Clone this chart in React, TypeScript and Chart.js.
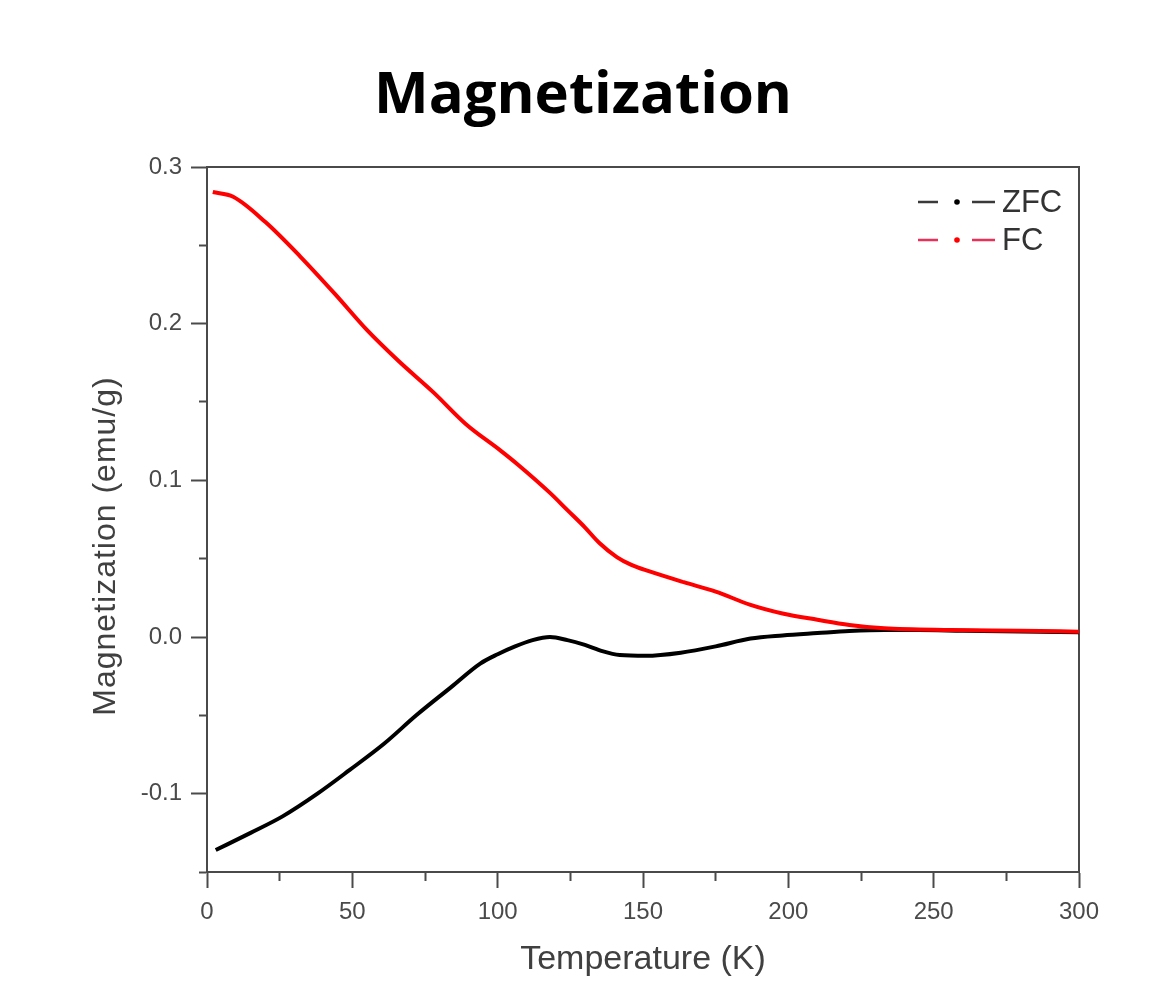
import React, { useEffect, useRef } from "react";
import { Chart, registerables } from "chart.js";

Chart.register(...registerables);

// ---- data ----
const zfcT = [3, 15, 26, 38, 49, 61, 72, 84, 94, 100, 106, 112, 118, 124, 130, 136, 142, 151, 163, 175, 187, 198, 210, 221, 233, 245, 260, 280, 300];
const zfcM = [-0.136, -0.125, -0.1145, -0.1, -0.085, -0.068, -0.05, -0.032, -0.017, -0.011, -0.006, -0.002, 0.0, -0.002, -0.005, -0.009, -0.0115, -0.012, -0.01, -0.006, -0.001, 0.001, 0.0025, 0.0038, 0.0045, 0.0045, 0.004, 0.0035, 0.003];

const fcT = [2, 9, 20, 32, 44, 55, 66, 78, 89, 101, 107, 118, 124, 130, 135, 141, 146, 152, 164, 175, 187, 198, 210, 221, 233, 256, 280, 300];
const fcM = [0.284, 0.281, 0.265, 0.243, 0.219, 0.196, 0.176, 0.156, 0.136, 0.119, 0.11, 0.092, 0.081, 0.07, 0.06, 0.051, 0.046, 0.042, 0.035, 0.029, 0.0205, 0.015, 0.011, 0.0077, 0.0056, 0.0045, 0.004, 0.0034];

const seriesNames = ["ZFC", "FC"];
const seriesColors = ["#000000", "#ff0000"];
const legendDashColors = ["#3a3a3a", "#e8305a"];

const titleText = "Magnetization";
const xTitle = "Temperature (K)";
const yTitle = "Magnetization (emu/g)";

const xMin = 0, xMax = 300, xStep = 25;
const yMin = -0.15, yMax = 0.3, yStep = 0.05;

const AXIS = "#4a4a4a";

const isMajorX = (v: number) => Math.round(v) % 50 === 0;
const isMajorY = (v: number) => Math.abs(Math.round(v * 100)) % 10 === 0;

const legendPlugin = {
  id: "originLegend",
  afterDatasetsDraw(chart: any) {
    const ctx = chart.ctx;
    const { right, top } = chart.chartArea;
    chart.data.datasets.forEach((ds: any, i: number) => {
      const y = top + 35 + i * 38;
      const x0 = right - 161;
      ctx.save();
      ctx.strokeStyle = legendDashColors[i];
      ctx.lineWidth = 2.5;
      ctx.beginPath();
      ctx.moveTo(x0, y);
      ctx.lineTo(x0 + 20, y);
      ctx.moveTo(x0 + 54, y);
      ctx.lineTo(x0 + 77, y);
      ctx.stroke();
      ctx.fillStyle = ds.borderColor;
      ctx.beginPath();
      ctx.arc(x0 + 39, y, 2.8, 0, Math.PI * 2);
      ctx.fill();
      ctx.fillStyle = "#333333";
      ctx.font = "31px 'Liberation Sans', Arial, sans-serif";
      ctx.textBaseline = "middle";
      ctx.textAlign = "left";
      ctx.fillText(ds.label, x0 + 84, y + 1);
      ctx.restore();
    });
  },
};

const yTitlePlugin = {
  id: "yTitle",
  afterDraw(chart: any) {
    const ctx = chart.ctx;
    ctx.save();
    ctx.translate(106, 546);
    ctx.rotate(-Math.PI / 2);
    ctx.fillStyle = "#404040";
    ctx.font = "32px 'Liberation Sans', Arial, sans-serif";
    try { (ctx as any).letterSpacing = "1px"; } catch (e) {}
    ctx.textAlign = "center";
    ctx.textBaseline = "middle";
    ctx.fillText(yTitle, 0, 0);
    ctx.restore();
  },
};

export default function App() {
  const ref = useRef<HTMLCanvasElement | null>(null);

  useEffect(() => {
    if (!ref.current) return;
    const chart = new Chart(ref.current, {
      type: "line",
      data: {
        datasets: [
          {
            label: seriesNames[0],
            data: zfcT.map((t, i) => ({ x: t, y: zfcM[i] })),
            borderColor: seriesColors[0],
            backgroundColor: seriesColors[0],
            borderWidth: 4,
            pointRadius: 0,
            cubicInterpolationMode: "monotone",
            order: 1,
            xAxisID: "x",
            yAxisID: "y",
          },
          {
            label: seriesNames[1],
            data: fcT.map((t, i) => ({ x: t, y: fcM[i] })),
            borderColor: seriesColors[1],
            backgroundColor: seriesColors[1],
            borderWidth: 4,
            pointRadius: 0,
            cubicInterpolationMode: "monotone",
            order: 0,
            xAxisID: "x",
            yAxisID: "y",
          },
        ],
      },
      options: {
        animation: false,
        responsive: false,
        layout: { padding: { left: 15, right: 0, top: 0, bottom: 0 } },
        plugins: {
          legend: { display: false },
          tooltip: { enabled: false },
          title: {
            display: true,
            text: titleText,
            color: "#000000",
            font: { family: "'Open Sans', sans-serif", size: 58, weight: "bold" },
            padding: { top: 62, bottom: 35.4 },
          },
        },
        scales: {
          x: {
            type: "linear",
            position: "bottom",
            min: xMin,
            max: xMax,
            afterFit: (s: any) => { s.height = 130; },
            ticks: {
              stepSize: xStep,
              autoSkip: false,
              maxRotation: 0,
              padding: 10,
              color: "#4a4a4a",
              font: { family: "'Liberation Sans', Arial, sans-serif", size: 24 },
              callback: (v: any) => (isMajorX(Number(v)) ? String(Math.round(Number(v))) : ""),
            },
            grid: {
              drawOnChartArea: false,
              drawTicks: true,
              tickLength: 16,
              tickWidth: 2,
              tickColor: AXIS,
              tickBorderDash: (c: any) => (isMajorX(c.tick.value) ? [] : [8, 8]),
              tickBorderDashOffset: 0,
            },
            border: { display: true, color: AXIS, width: 2 },
            title: {
              display: true,
              text: xTitle,
              color: "#404040",
              font: { family: "'Liberation Sans', Arial, sans-serif", size: 34 },
              padding: { top: 0, bottom: 22 },
            },
          },
          x2: {
            type: "linear",
            position: "top",
            min: xMin,
            max: xMax,
            afterFit: (s: any) => { s.height = 0; },
            ticks: { display: false },
            grid: { display: false },
            border: { display: true, color: AXIS, width: 2 },
          },
          y: {
            type: "linear",
            position: "left",
            min: yMin,
            max: yMax,
            afterFit: (s: any) => { s.width = 192; },
            ticks: {
              stepSize: yStep,
              autoSkip: false,
              padding: 9,
              color: "#4a4a4a",
              font: { family: "'Liberation Sans', Arial, sans-serif", size: 24 },
              callback: (v: any) => (isMajorY(Number(v)) ? Number(v).toFixed(1) : ""),
            },
            grid: {
              drawOnChartArea: false,
              drawTicks: true,
              tickLength: 16,
              tickWidth: 2,
              tickColor: AXIS,
              tickBorderDash: (c: any) => (isMajorY(c.tick.value) ? [] : [8, 8]),
              tickBorderDashOffset: (c: any) => (isMajorY(c.tick.value) ? 0 : 8),
            },
            border: { display: true, color: AXIS, width: 2 },
          },
          y2: {
            type: "linear",
            position: "right",
            min: yMin,
            max: yMax,
            afterFit: (s: any) => { s.width = 72; },
            ticks: { display: false },
            grid: { display: false },
            border: { display: true, color: AXIS, width: 2 },
          },
        },
      } as any,
      plugins: [legendPlugin, yTitlePlugin],
    });
    return () => chart.destroy();
  }, []);

  return (
    <div style={{ position: "absolute", left: 0, top: 0, width: 1151, height: 1002, background: "#ffffff" }}>
      <canvas ref={ref} width={1151} height={1002} style={{ display: "block" }} />
    </div>
  );
}
